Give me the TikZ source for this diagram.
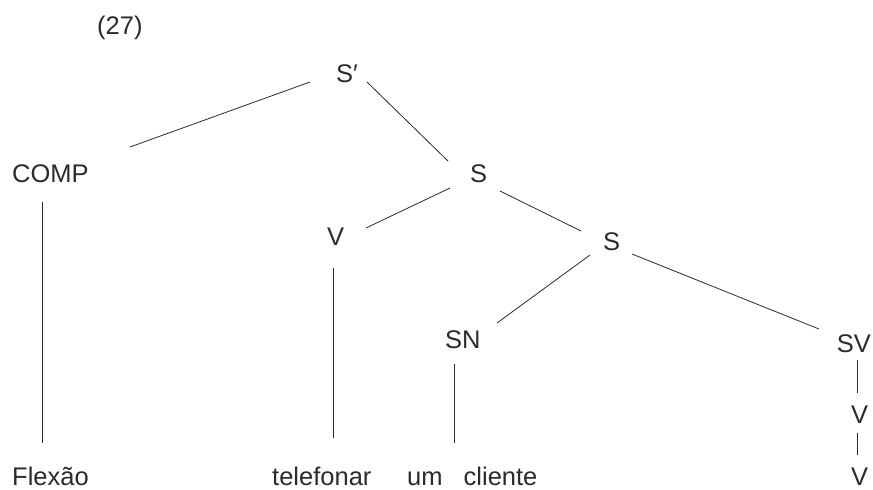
\documentclass[tikz,border=0pt]{standalone}
\usepackage{fontspec}
\setmainfont{Liberation Sans}
\definecolor{ink}{HTML}{2B2B2B}
\begin{document}
\begin{tikzpicture}[x=1pt,y=-1pt,
  lbl/.style={anchor=base west,inner sep=0pt,text=ink,font=\fontsize{25.5}{30}\selectfont},
  branch/.style={draw=ink,line width=0.8pt}]
\useasboundingbox (0,0) rectangle (873,490);

% labels
\node[lbl] (ex)   at (97,34)   {(27)};
\node[lbl] (sp)   at (336,82)  {S′};
\node[lbl] (comp) at (12,182)  {COMP};
\node[lbl] (s1)   at (470,182) {S};
\node[lbl] (v1)   at (327,245) {V};
\node[lbl] (s2)   at (603,250) {S};
\node[lbl] (sn)   at (445,348) {SN};
\node[lbl,anchor=base east] (sv) at (871,352) {SV};
\node[lbl] (v2)   at (851,423) {V};
\node[lbl] (v3)   at (851,485) {V};
\node[lbl] (flex) at (12,485)  {Flexão};
\node[lbl] (tel)  at (272,485) {telefonar};
\node[lbl] (um)   at (407,485) {um\hspace{14pt} cliente};

% branches
\draw[branch] ([shift={(-26,0)}]sp.base west) -- ([shift={(118,-35)}]comp.base west);
\draw[branch] ([shift={(31,0)}]sp.base west) -- ([shift={(-22,-21)}]s1.base west);
\draw[branch] ([shift={(-20,6)}]s1.base west) -- ([shift={(39,-17)}]v1.base west);
\draw[branch] ([shift={(30,9)}]s1.base west) -- ([shift={(-22,-19)}]s2.base west);
\draw[branch] ([shift={(-13,5)}]s2.base west) -- ([shift={(52,-25)}]sn.base west);
\draw[branch] ([shift={(29,4)}]s2.base west) -- ([shift={(-52,-23)}]sv.base east);
\draw[branch] ([shift={(30,20)}]comp.base west) -- ([shift={(30,-42)}]flex.base west);
\draw[branch] ([shift={(6,23)}]v1.base west) -- ([shift={(61,-47)}]tel.base west);
\draw[branch] ([shift={(9,16)}]sn.base west) -- ([shift={(47,-42)}]um.base west);
\draw[branch] ([shift={(-14,8)}]sv.base east) -- ([shift={(6,-30)}]v2.base west);
\draw[branch] ([shift={(6,10)}]v2.base west) -- ([shift={(6,-30)}]v3.base west);
\end{tikzpicture}
\end{document}
